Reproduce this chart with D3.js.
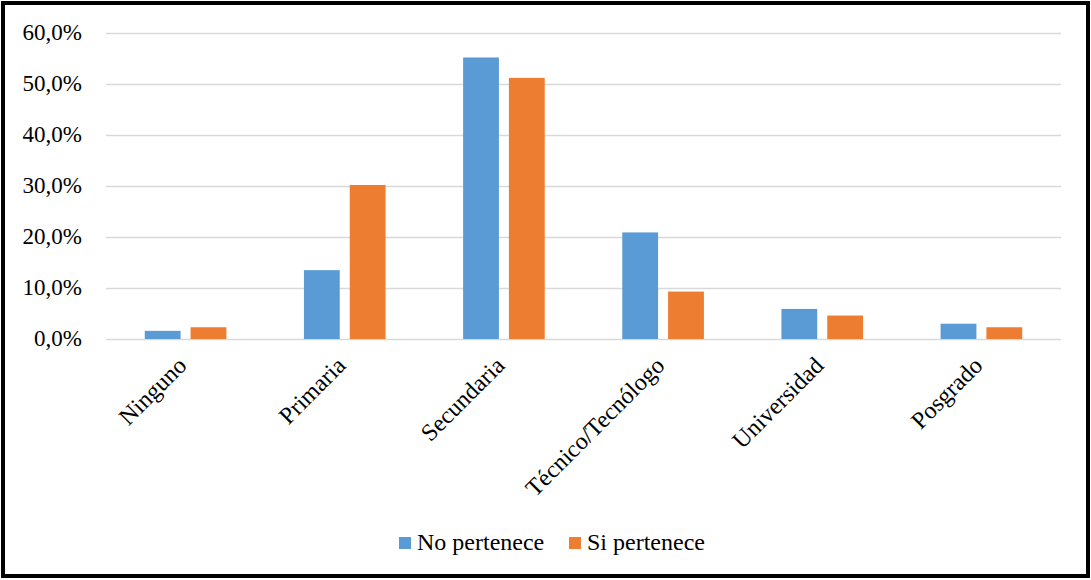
<!DOCTYPE html>
<html><head><meta charset="utf-8">
<script src="https://cdn.jsdelivr.net/npm/d3@7"></script>
<style>
body{margin:0;background:#fff}
#wrap{position:relative;width:1091px;height:580px;overflow:hidden}
svg{display:block;position:absolute;left:0;top:0}
.t{position:absolute;font-family:'Liberation Serif','Times New Roman',serif;color:#000;line-height:1;white-space:nowrap}
</style>
</head><body><div id="wrap"><svg id="c" width="1091" height="580"></svg></div>
<script>
const categories = ["Ninguno","Primaria","Secundaria","Técnico/Tecnólogo","Universidad","Posgrado"];
const seriesNames = ["No pertenece","Si pertenece"];
const noPertenece = [1.6, 13.5, 55.2, 20.9, 5.9, 3.0];
const siPertenece = [2.3, 30.2, 51.2, 9.3, 4.6, 2.3];
const yTicks = [0, 10, 20, 30, 40, 50, 60];
const colors = ["#5B9BD5", "#ED7D31"];

(function(){
const wrap = d3.select("#wrap");
const svg = d3.select("#c");
const ASC = 0.8375; // baseline offset for line-height:1, Liberation Serif
svg.append("rect").attr("x",3).attr("y",3).attr("width",1085).attr("height",573)
  .attr("fill","#fff").attr("stroke","#000").attr("stroke-width",4);

const pLeft = 106, pRight = 1061, pTop = 33, pBottom = 339;
const x = d3.scaleBand().domain(categories).range([pLeft, pRight]).paddingInner(0).paddingOuter(0);
const y = d3.scaleLinear().domain([0, 60]).range([pBottom, pTop]);

const g = svg.append("g");
g.selectAll("line.grid").data(yTicks).join("line").attr("class","grid")
  .attr("x1", pLeft).attr("x2", pRight)
  .attr("y1", d => Math.round(y(d)) + 0.5).attr("y2", d => Math.round(y(d)) + 0.5)
  .attr("stroke", "#D9D9D9").attr("stroke-width", 1.5);

const fmt = d => d3.format(".1f")(d).replace(".", ",") + "%";
const yFs = 23;
wrap.selectAll("div.ytick").data(yTicks).join("div").attr("class", "t ytick")
  .style("font-size", yFs + "px")
  .style("right", (1091 - 82) + "px")
  .style("top", d => (y(d) + 7 - ASC * yFs) + "px")
  .text(fmt);

const barW = x.bandwidth() * 0.225, gap = 10;
const series = [noPertenece, siPertenece];
series.forEach((vals, si) => {
  g.selectAll("rect.s" + si).data(vals).join("rect").attr("class", "s" + si)
    .attr("x", (d, i) => x(categories[i]) + x.bandwidth() / 2 + (si === 0 ? -gap / 2 - barW : gap / 2))
    .attr("y", d => y(d)).attr("width", barW).attr("height", d => y(0) - y(d))
    .attr("fill", colors[si]);
});

const xFs = 24;
const xl = wrap.selectAll("div.xl").data(categories).join("div").attr("class", "xl")
  .style("position", "absolute").style("width", "0px").style("height", "0px")
  .style("left", d => (x(d) + x.bandwidth() / 2 + 2.5) + "px")
  .style("top", (pBottom + 28) + "px")
  .style("transform", "rotate(-45deg)").style("transform-origin", "0 0");
xl.append("span").attr("class", "t")
  .style("font-size", xFs + "px").style("right", "0px").style("top", (-ASC * xFs) + "px")
  .text(d => d);

const lx = [399, 569];
const lFs = 24;
seriesNames.forEach((n, i) => {
  svg.append("rect").attr("x", lx[i]).attr("y", 537).attr("width", 12).attr("height", 12).attr("fill", colors[i]);
  wrap.append("div").attr("class", "t").style("font-size", lFs + "px")
    .style("left", (lx[i] + 18) + "px").style("top", (550 - ASC * lFs) + "px").text(n);
});
})();
</script></body></html>
